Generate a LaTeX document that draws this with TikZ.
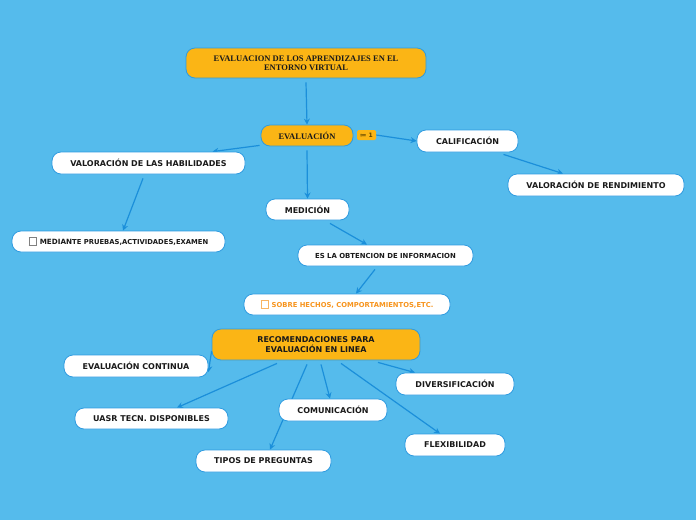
\documentclass[tikz,border=0pt]{standalone}
\usepackage{fontspec}
\setmainfont{Liberation Serif}
\setsansfont{DejaVu Sans}
\usetikzlibrary{arrows.meta,backgrounds}
\definecolor{bgblue}{HTML}{55BBEC}
\definecolor{linkblue}{HTML}{1B8FDA}
\definecolor{nodeborder}{HTML}{2E9BE0}
\definecolor{mmorange}{HTML}{FBB515}
\definecolor{txtorange}{HTML}{F7941D}
\definecolor{txtdark}{HTML}{1A1A1A}
\definecolor{tagtext}{HTML}{5E4400}
\newcommand{\chkbox}[1]{{\setlength{\fboxrule}{0.8pt}\setlength{\fboxsep}{0pt}\color{#1}\fbox{\rule{0pt}{6.5pt}\hspace{6.5pt}}}\hspace{3pt}}
\tikzset{
  x=1pt,y=-1pt,
  box/.style={draw=nodeborder,line width=0.8pt,rounded corners=9pt,inner sep=0pt,align=center,text=txtdark},
  wbox/.style={box,fill=white,font=\sffamily\bfseries\fontsize{8}{9}\selectfont},
  obox/.style={box,fill=mmorange,font=\sffamily\bfseries\fontsize{8}{9.5}\selectfont},
  sbox/.style={box,fill=mmorange,font=\rmfamily\bfseries\fontsize{8.5}{9}\selectfont},
  conn/.style={draw=linkblue,line width=1.2pt,-{Stealth[length=6pt,width=6pt]}},
}
\begin{document}
\begin{tikzpicture}
\node[sbox,minimum width=240pt,minimum height=30pt] (title) at (306,63) {EVALUACION DE LOS APRENDIZAJES EN EL\\ENTORNO VIRTUAL};
\node[sbox,minimum width=92pt,minimum height=21pt] (eval) at (307,135.5) {EVALUACIÓN};
\node[fill=mmorange,rounded corners=1.5pt,inner sep=0pt,minimum width=19pt,minimum height=10pt,font=\sffamily\bfseries\fontsize{6}{6}\selectfont,text=tagtext] (tag) at (366.5,135) {≔ 1};
\node[wbox,minimum width=101pt,minimum height=22pt] (calif) at (467.5,141) {CALIFICACIÓN};
\node[wbox,minimum width=176pt,minimum height=22pt] (valrend) at (596,185) {VALORACIÓN DE RENDIMIENTO};
\node[wbox,minimum width=193pt,minimum height=22pt] (valhab) at (148.5,163) {VALORACIÓN DE LAS HABILIDADES};
\node[wbox,minimum width=213pt,minimum height=21pt] (mediante) at (118.5,241.5) {\chkbox{gray}{\fontsize{7.2}{8}\selectfont MEDIAN}{\fontsize{6.8}{8}\selectfont TE PRUEBAS,ACTIVIDADES,EXAMEN}};
\node[wbox,minimum width=83pt,minimum height=21pt] (medicion) at (307.5,209.5) {MEDICIÓN};
\node[wbox,minimum width=175pt,minimum height=21pt,font=\sffamily\bfseries\fontsize{6.9}{8}\selectfont] (esla) at (385.5,255.5) {ES LA OBTENCION DE INFORMACION};
\node[wbox,minimum width=206pt,minimum height=21pt,font=\sffamily\bfseries\fontsize{6.8}{8}\selectfont,text=txtorange] (sobre) at (347,304.5) {\chkbox{txtorange!70}SOBRE HECHOS, COMPORTAMIENTOS,ETC.};
\node[obox,minimum width=208pt,minimum height=31pt] (rec) at (316,344.5) {RECOMENDACIONES PARA\\EVALUACIÓN EN LINEA};
\node[wbox,minimum width=144pt,minimum height=22pt] (evalcont) at (136,366) {EVALUACIÓN CONTINUA};
\node[wbox,minimum width=153pt,minimum height=21pt] (uasr) at (151.5,418.5) {UASR TECN. DISPONIBLES};
\node[wbox,minimum width=108pt,minimum height=22pt] (comun) at (333,410) {COMUNICACIÓN};
\node[wbox,minimum width=135pt,minimum height=22pt] (tipos) at (263.5,461) {TIPOS DE PREGUNTAS};
\node[wbox,minimum width=118pt,minimum height=22pt] (divers) at (455,384) {DIVERSIFICACIÓN};
\node[wbox,minimum width=100pt,minimum height=22pt] (flex) at (455,445) {FLEXIBILIDAD};
\begin{pgfonlayer}{background}
\fill[bgblue] (0,0) rectangle (696,520);
\draw[conn] ([yshift=-4pt]title.south) -- (eval.north);
\draw[conn] (tag.east) -- (calif.west);
\draw[conn] ([xshift=-1pt,yshift=1pt]eval.south west) -- ([xshift=64pt]valhab.north);
\draw[conn] ([yshift=-4pt]eval.south) -- (medicion.north);
\draw[conn] ([xshift=36pt,yshift=-2pt]calif.south) -- ([xshift=-33pt]valrend.north);
\draw[conn] ([xshift=-5.5pt,yshift=-4pt]valhab.south) -- ([xshift=4.5pt]mediante.north);
\draw[conn] ([xshift=22.5pt,yshift=-3pt]medicion.south) -- ([xshift=-18.5pt]esla.north);
\draw[conn] ([xshift=-10.5pt,yshift=-3pt]esla.south) -- ([xshift=9pt]sobre.north);
\draw[conn] ([yshift=-6.5pt]rec.west) -- ([yshift=-6pt]evalcont.east);
\draw[conn] ([xshift=-39pt,yshift=-3pt]rec.south) -- ([xshift=25.5pt]uasr.north);
\draw[conn] ([xshift=-9pt,yshift=-4pt]rec.south) -- ([xshift=6.5pt]tipos.north);
\draw[conn] ([xshift=5pt,yshift=-4pt]rec.south) -- ([xshift=-3pt]comun.north);
\draw[conn] ([xshift=25pt,yshift=-3pt]rec.south) -- ([xshift=-15pt]flex.north);
\draw[conn] ([xshift=62pt,yshift=-2pt]rec.south) -- ([xshift=-40pt]divers.north);
\end{pgfonlayer}
\end{tikzpicture}
\end{document}
